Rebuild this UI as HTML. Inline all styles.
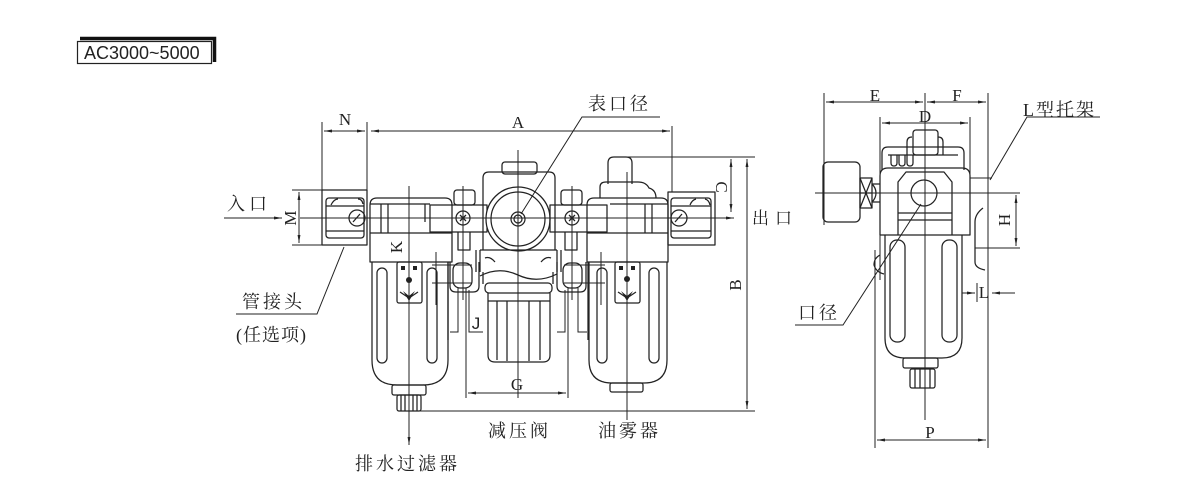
<!DOCTYPE html>
<html><head><meta charset="utf-8">
<style>
html,body{margin:0;padding:0;background:#fff;}
svg{display:block;}
.cn{font-family:"Liberation Serif","Noto Serif CJK SC","Noto Sans CJK SC",serif;font-size:18px;fill:#222;letter-spacing:3px;}
.lt{font-family:"Liberation Serif",serif;font-size:17px;fill:#222;}
</style></head>
<body>
<svg width="1200" height="500" viewBox="0 0 1200 500" xmlns="http://www.w3.org/2000/svg">
<defs>
<marker id="a" viewBox="0 0 10 10" refX="10" refY="5" markerUnits="userSpaceOnUse" markerWidth="8" markerHeight="8" orient="auto-start-reverse">
<path d="M0 3.2 L10 5 L0 6.8z" fill="#222"/></marker>
</defs>

<!-- Title -->
<path d="M80 38.5 H214.5 V62" fill="none" stroke="#111" stroke-width="3.5"/>
<rect x="77.5" y="41.5" width="134" height="22" fill="#fff" stroke="#222" stroke-width="1.2"/>
<text x="84" y="59" style="font-family:'Liberation Sans',sans-serif;font-size:18px;fill:#222">AC3000~5000</text>

<g fill="none" stroke="#222" stroke-width="1.25" stroke-linejoin="round">
<!-- ===== LEFT VIEW ===== -->
<rect x="322" y="190" width="45" height="55"/>
<rect x="326" y="198" width="38" height="40" rx="3"/>
<line x1="326" y1="206" x2="364" y2="206"/>
<line x1="326" y1="231" x2="364" y2="231"/>
<circle cx="357" cy="218" r="8"/>
<line x1="353" y1="222" x2="360" y2="214"/>
<path d="M331 205 Q334 199 338 199 M358 199 Q362 199 363 204"/>
<!-- filter head -->
<path d="M370 262 V205 Q370 198 377 198 H445 Q452 198 452 205 V262 Z"/>
<line x1="370" y1="233" x2="452" y2="233"/>
<line x1="381" y1="204" x2="381" y2="233"/>
<line x1="388" y1="204" x2="388" y2="233"/>
<line x1="370" y1="204" x2="430" y2="204"/>
<line x1="425" y1="204" x2="425" y2="222"/>
<rect x="430" y="205" width="57" height="27"/>
<!-- screw posts -->
<rect x="454" y="190" width="21" height="15" rx="3"/>
<path d="M458 232 V250 H470 V232"/>
<circle cx="463" cy="218" r="7"/>
<path d="M460 215 L466 221 M466 215 L460 221"/>
<rect x="561" y="190" width="21" height="15" rx="3"/>
<path d="M565 232 V250 H577 V232"/>
<circle cx="572" cy="218" r="7"/>
<path d="M569 215 L575 221 M575 215 L569 221"/>
<!-- regulator -->
<rect x="502" y="162" width="35" height="12" rx="3"/>
<path d="M483 250 V178 Q483 172 489 172 H549 Q555 172 555 178 V250"/>
<circle cx="518" cy="219" r="32" fill="#fff"/>
<circle cx="518" cy="219" r="27"/>
<circle cx="518" cy="219" r="7"/>
<circle cx="518" cy="219" r="4"/>
<path d="M480 250 H557 M480 250 V272 M557 250 V272"/>
<path d="M485 258 Q490 256 495 262 M551 258 Q546 256 541 262"/>
<path d="M480 276 Q499 266 518 275 T557 274"/>
<path d="M483 272 V284 M553 272 V284"/>
<rect x="485" y="283" width="67" height="10" rx="4"/>
<path d="M488 293 V355 Q488 362 495 362 H543 Q550 362 550 355 V293"/>
<line x1="488" y1="301" x2="550" y2="301"/>
<path d="M497 301 V360 M507 301 V361 M529 301 V361 M540 301 V360"/>
<rect x="550" y="205" width="57" height="27"/>
<!-- lubricator head -->
<path d="M608 184 V163 Q608 157 614 157 H626 Q632 157 632 163 V184"/>
<path d="M600 198 V187 Q600 182 606 182 H638 Q646 182 649 188 Q656 190 656 198"/>
<path d="M587 262 V205 Q587 198 594 198 H661 Q668 198 668 205 V262 Z"/>
<line x1="587" y1="233" x2="668" y2="233"/>
<line x1="645" y1="204" x2="645" y2="233"/>
<line x1="652" y1="204" x2="652" y2="233"/>
<line x1="610" y1="204" x2="668" y2="204"/>
<!-- right port block -->
<rect x="668" y="192" width="47" height="53"/>
<rect x="671" y="198" width="40" height="40" rx="3"/>
<line x1="671" y1="206" x2="711" y2="206"/>
<line x1="671" y1="231" x2="711" y2="231"/>
<circle cx="679" cy="218" r="8"/>
<line x1="675" y1="222" x2="682" y2="214"/>
<path d="M690 205 Q692 200 696 199 M705 199 Q709 200 710 205"/>

<!-- filter bowl -->
<path d="M372 262 V360 Q372 385 397 385 H423 Q448 385 448 360 V262"/>
<rect x="377" y="268" width="10" height="95" rx="5"/>
<rect x="427" y="268" width="10" height="95" rx="5"/>
<rect x="397" y="262" width="25" height="41" rx="2"/>
<path d="M400 292 L409 298 L418 292"/>
<rect x="392" y="385" width="34" height="10" rx="2"/>
<rect x="397" y="395" width="24" height="16" rx="2"/>
<path d="M401 395 V411 M405 395 V411 M413 395 V411 M417 395 V411"/>

<!-- lubricator bowl -->
<path d="M589 262 V360 Q589 383 612 383 H644 Q667 383 667 360 V262"/>
<rect x="597" y="268" width="10" height="95" rx="5"/>
<rect x="649" y="268" width="10" height="95" rx="5"/>
<rect x="615" y="262" width="25" height="41" rx="2"/>
<path d="M618 292 L627 298 L636 292"/>
<rect x="610" y="383" width="33" height="9" rx="2"/>

<!-- middle connectors -->
<path d="M450 262 V286 Q450 292 456 292 H473 Q479 292 479 286 V262"/>
<rect x="453" y="263" width="19" height="25" rx="7"/>
<path d="M557 262 V286 Q557 292 563 292 H580 Q586 292 586 286 V262"/>
<rect x="563" y="263" width="19" height="25" rx="7"/>
<path d="M448 262 V340 M588 262 V340"/>
<path d="M476 250 V272 M561 250 V272"/>
</g>

<g fill="#222">
<rect x="401" y="266" width="4" height="4"/><rect x="413" y="266" width="4" height="4"/>
<circle cx="409" cy="280" r="3"/>
<rect x="619" y="266" width="4" height="4"/><rect x="631" y="266" width="4" height="4"/>
<circle cx="627" cy="279" r="3"/>
<path d="M403 291 L409 296 L415 291 L409 301z"/>
<path d="M621 291 L627 296 L633 291 L627 301z"/>
</g>

<g fill="none" stroke="#222" stroke-width="1">
<line x1="224" y1="218" x2="282" y2="218" marker-end="url(#a)"/>
<line x1="300" y1="218" x2="734" y2="218" marker-end="url(#a)"/>
<line x1="409" y1="186" x2="409" y2="445" marker-end="url(#a)"/>
<line x1="518" y1="150" x2="518" y2="398"/>
<line x1="627" y1="172" x2="627" y2="420"/>
<line x1="463" y1="186" x2="463" y2="300"/>
<line x1="572" y1="186" x2="572" y2="300"/>
<line x1="322" y1="122" x2="322" y2="190"/>
<line x1="367" y1="122" x2="367" y2="190"/>
<line x1="324" y1="131" x2="365" y2="131" marker-start="url(#a)" marker-end="url(#a)"/>
<line x1="371" y1="131" x2="670" y2="131" marker-start="url(#a)" marker-end="url(#a)"/>
<line x1="672" y1="126" x2="672" y2="192"/>
<line x1="292" y1="190" x2="322" y2="190"/>
<line x1="292" y1="245" x2="322" y2="245"/>
<line x1="299" y1="192" x2="299" y2="243" marker-start="url(#a)" marker-end="url(#a)"/>
<line x1="436" y1="252" x2="436" y2="305"/>
<line x1="432" y1="265" x2="472" y2="265"/>
<line x1="432" y1="283" x2="472" y2="283"/>
<line x1="601" y1="252" x2="601" y2="305"/>
<line x1="564" y1="265" x2="605" y2="265"/>
<line x1="564" y1="283" x2="605" y2="283"/>
<polyline points="458,288 458,332 450,332"/>
<polyline points="469,290 469,332 483,332"/>
<polyline points="565,290 565,332 557,332"/>
<polyline points="578,288 578,332 587,332"/>
<line x1="466" y1="288" x2="466" y2="398"/>
<line x1="568" y1="288" x2="568" y2="398"/>
<line x1="468" y1="393" x2="566" y2="393" marker-start="url(#a)" marker-end="url(#a)"/>
<line x1="613" y1="157" x2="755" y2="157"/>
<line x1="409" y1="411" x2="755" y2="411"/>
<line x1="747" y1="159" x2="747" y2="409" marker-start="url(#a)" marker-end="url(#a)"/>
<line x1="731" y1="159" x2="731" y2="212" marker-start="url(#a)" marker-end="url(#a)"/>
<polyline points="660,117 582,117 521,214"/>
<polyline points="236,314 317,314 344,247"/>

<!-- RIGHT VIEW -->
<line x1="824" y1="93" x2="824" y2="225"/>
<line x1="925" y1="93" x2="925" y2="420"/>
<line x1="988" y1="93" x2="988" y2="448"/>
<line x1="826" y1="102" x2="923" y2="102" marker-start="url(#a)" marker-end="url(#a)"/>
<line x1="927" y1="102" x2="986" y2="102" marker-start="url(#a)" marker-end="url(#a)"/>
<line x1="880" y1="117" x2="880" y2="280"/>
<line x1="970" y1="117" x2="970" y2="200"/>
<line x1="882" y1="123" x2="968" y2="123" marker-start="url(#a)" marker-end="url(#a)"/>
<line x1="815" y1="193" x2="1020" y2="193"/>
<line x1="970" y1="178" x2="992" y2="178"/>
<line x1="975" y1="248" x2="1020" y2="248"/>
<line x1="1016" y1="195" x2="1016" y2="246" marker-start="url(#a)" marker-end="url(#a)"/>
<line x1="875" y1="250" x2="875" y2="448"/>
<line x1="877" y1="440" x2="986" y2="440" marker-start="url(#a)" marker-end="url(#a)"/>
<line x1="962" y1="293" x2="975" y2="293" marker-end="url(#a)"/>
<line x1="1015" y1="293" x2="992" y2="293" marker-end="url(#a)"/>
<line x1="977" y1="283" x2="977" y2="302"/>
<polyline points="795,325 843,325 921,204"/>
<polyline points="1100,117 1027,117 990,180"/>
</g>

<g fill="none" stroke="#222" stroke-width="1.25" stroke-linejoin="round">
<rect x="823" y="162" width="37" height="60" rx="5"/>
<rect x="860" y="178" width="12" height="30"/>
<path d="M860 178 L872 208 M872 178 L860 208 M860 193 H872"/>
<path d="M872 184 Q876 188 876 193 Q876 198 872 202 M872 184 H880 M872 202 H880"/>
<rect x="913" y="130" width="25" height="25" rx="3"/>
<path d="M907 155 V142 Q907 137 912 137 M938 137 Q943 137 943 142 V155"/>
<path d="M882 170 V153 Q882 147 888 147 H958 Q964 147 964 153 V170"/>
<path d="M891 155 V163 Q891 166 894 166 Q897 166 897 163 V155"/>
<path d="M899 155 V163 Q899 166 902 166 Q905 166 905 163 V155"/>
<path d="M907 155 V163 Q907 166 910 166 Q913 166 913 163 V155"/>
<line x1="888" y1="155" x2="958" y2="155"/>
<path d="M880 235 V176 Q880 168 888 168 H962 Q970 168 970 176 V235 Z"/>
<path d="M898 235 V182 L906 172 H944 L952 182 V235"/>
<circle cx="924" cy="193" r="13"/>
<line x1="898" y1="213" x2="952" y2="213"/>
<line x1="898" y1="220" x2="952" y2="220"/>
<path d="M983 208 Q975 214 975 222 V262 Q975 268 985 270"/>
<path d="M885 235 V338 Q885 358 905 358 H942 Q962 358 962 338 V235"/>
<rect x="890" y="240" width="15" height="102" rx="7"/>
<rect x="942" y="240" width="15" height="102" rx="7"/>
<path d="M880 255 Q874 258 874 265 Q876 272 884 274"/>
<rect x="903" y="358" width="35" height="10" rx="2"/>
<rect x="910" y="369" width="25" height="19" rx="2"/>
<path d="M915 369 V388 M920 369 V388 M930 369 V388"/>
</g>

<text class="cn" x="588" y="110">表口径</text>
<text class="cn" x="227" y="210" style="letter-spacing:4px">入口</text>
<text class="cn" x="242" y="308">管接头</text>
<text class="cn" x="236" y="341" style="letter-spacing:1px">(任选项)</text>
<text class="cn" x="355" y="470">排水过滤器</text>
<text class="cn" x="488" y="437">减压阀</text>
<text class="cn" x="598" y="437">油雾器</text>
<text class="cn" x="752" y="224" style="letter-spacing:6px;font-size:17px">出口</text>
<text class="cn" x="1023" y="116" style="letter-spacing:2px">L型托架</text>
<text class="cn" x="798" y="319">口径</text>

<text class="lt" x="345" y="125" text-anchor="middle">N</text>
<text class="lt" x="518" y="128" text-anchor="middle">A</text>
<text class="lt" x="875" y="101" text-anchor="middle">E</text>
<text class="lt" x="957" y="101" text-anchor="middle">F</text>
<text class="lt" x="925" y="122" text-anchor="middle">D</text>
<text class="lt" x="517" y="390" text-anchor="middle">G</text>
<text x="476" y="329" text-anchor="middle" style="font-family:'Liberation Sans',sans-serif;font-size:17px;fill:#222">J</text>
<text class="lt" x="930" y="438" text-anchor="middle">P</text>
<text class="lt" x="984" y="298" text-anchor="middle">L</text>
<text class="lt" transform="translate(296,218) rotate(-90)" text-anchor="middle">M</text>
<text class="lt" transform="translate(402,247) rotate(-90)" text-anchor="middle">K</text>
<text class="lt" transform="translate(716,187) rotate(90)" text-anchor="middle">C</text>
<text class="lt" transform="translate(741,285) rotate(-90)" text-anchor="middle">B</text>
<text class="lt" transform="translate(1010,220) rotate(-90)" text-anchor="middle">H</text>
</svg>
</body></html>
